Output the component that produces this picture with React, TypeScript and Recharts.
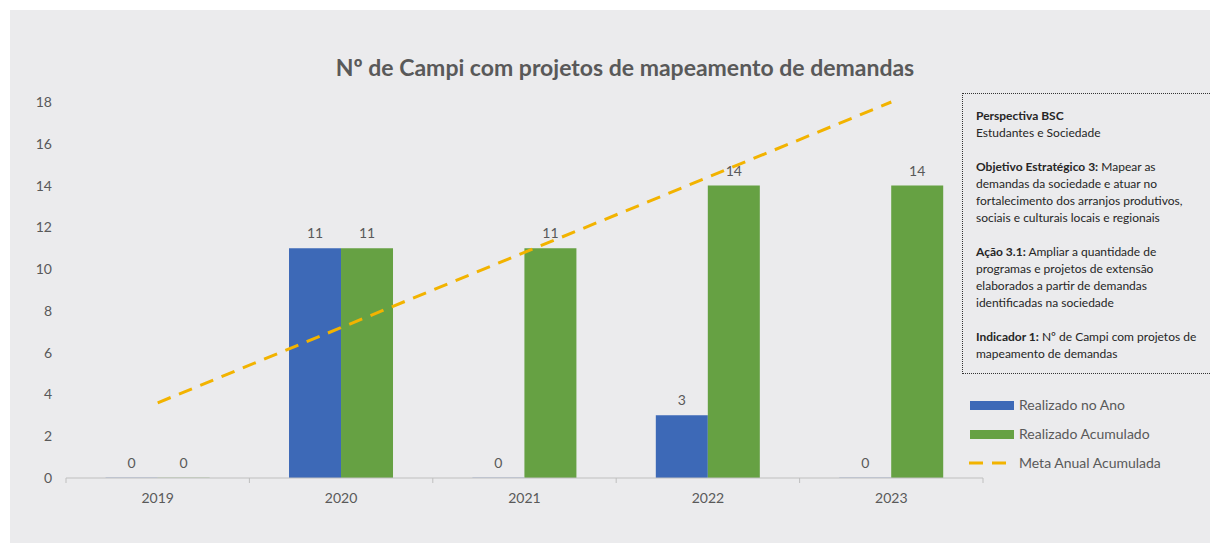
import React from 'react';
import { ComposedChart, Bar, Line, XAxis, YAxis, LabelList } from 'recharts';

const years = ['2019', '2020', '2021', '2022', '2023'];
const realizadoNoAno = [0, 11, 0, 3, 0];
const realizadoAcumulado = [0, 11, 11, 14, 14];
const metaAnualAcumulada = [3.6, 7.2, 10.8, 14.4, 18];
const yTicks = [0, 2, 4, 6, 8, 10, 12, 14, 16, 18];

const data = years.map((year, i) => ({
    year,
    'Realizado no Ano': realizadoNoAno[i],
    'Realizado Acumulado': realizadoAcumulado[i],
    'Meta Anual Acumulada': metaAnualAcumulada[i],
}));

const FONT = 'Lato, "Liberation Sans", sans-serif';
const TEXT = '#595959';
const BLUE = '#3d69b7';
const GREEN = '#66a143';
const GOLD = '#f2b300';
const HALF_BAND = 91.7;

const CategoryTick = (props: any) => {
    const { x, y, payload, index } = props;
    return (
        <g>
            <line x1={x - HALF_BAND} y1={y - 8} x2={x - HALF_BAND} y2={y - 3} stroke="#bfbfbf" />
            {index === years.length - 1 && (
                <line x1={x + HALF_BAND} y1={y - 8} x2={x + HALF_BAND} y2={y - 3} stroke="#bfbfbf" />
            )}
            <text x={x} y={y + 17} textAnchor="middle" fill={TEXT} fontSize={14} fontFamily={FONT}>
                {payload.value}
            </text>
        </g>
    );
};

const legendItems = [
    { name: 'Realizado no Ano', color: BLUE, dashed: false },
    { name: 'Realizado Acumulado', color: GREEN, dashed: false },
    { name: 'Meta Anual Acumulada', color: GOLD, dashed: true },
];

export default function App() {
    return (
        <div style={{ position: 'relative', width: 1208, height: 533, marginLeft: 2, marginTop: 2, background: '#ebebed', fontFamily: FONT }}>
            <div style={{ position: 'absolute', left: 0, top: 43, width: 1230, textAlign: 'center', fontSize: 23, fontWeight: 700, color: TEXT }}>
                Nº de Campi com projetos de mapeamento de demandas
            </div>
            <ComposedChart
                width={1208}
                height={533}
                data={data}
                margin={{ top: 92, right: 235, bottom: 35, left: 0 }}
                barCategoryGap="21.6%"
                barGap={0}
            >
                <XAxis
                    dataKey="year"
                    axisLine={{ stroke: '#bfbfbf' }}
                    tickLine={false}
                    tick={<CategoryTick />}
                    height={30}
                    interval={0}
                />
                <YAxis
                    domain={[0, 18]}
                    ticks={yTicks}
                    axisLine={false}
                    tickLine={false}
                    tickSize={0}
                    tickMargin={14}
                    width={56}
                    tick={{ fill: TEXT, fontSize: 14, fontFamily: FONT }}
                />
                <Bar dataKey="Realizado no Ano" fill={BLUE} minPointSize={0.3} isAnimationActive={false}>
                    <LabelList dataKey="Realizado no Ano" position="top" offset={10} fill={TEXT} fontSize={14} fontFamily={FONT} />
                </Bar>
                <Bar dataKey="Realizado Acumulado" fill={GREEN} minPointSize={0.3} isAnimationActive={false}>
                    <LabelList dataKey="Realizado Acumulado" position="top" offset={10} fill={TEXT} fontSize={14} fontFamily={FONT} />
                </Bar>
                <Line
                    dataKey="Meta Anual Acumulada"
                    stroke={GOLD}
                    strokeWidth={3}
                    strokeDasharray="14 9"
                    dot={false}
                    activeDot={false}
                    isAnimationActive={false}
                />
            </ComposedChart>
            <div style={{ position: 'absolute', left: 958, top: 380, fontSize: 14, color: TEXT }}>
                {legendItems.map((item) => (
                    <div key={item.name} style={{ display: 'flex', alignItems: 'center', height: 29 }}>
                        <svg width={51} height={12}>
                            {item.dashed ? (
                                <line x1={1} y1={6} x2={46} y2={6} stroke={item.color} strokeWidth={3} strokeDasharray="14 9" />
                            ) : (
                                <rect x={2} y={2} width={44} height={9} fill={item.color} />
                            )}
                        </svg>
                        <span>{item.name}</span>
                    </div>
                ))}
            </div>
            <div
                style={{
                    position: 'absolute',
                    left: 952,
                    top: 83,
                    width: 254,
                    height: 281,
                    boxSizing: 'border-box',
                    border: '1px dotted #333',
                    padding: '13px 18px 0 13px',
                    fontSize: 12,
                    lineHeight: '17px',
                    color: '#262626',
                }}
            >
                <div><b>Perspectiva BSC</b></div>
                <div>Estudantes e Sociedade</div>
                <div style={{ height: 17 }} />
                <div><b>Objetivo Estratégico 3:</b> Mapear as demandas da sociedade e atuar no fortalecimento dos arranjos produtivos, sociais e culturais locais e regionais</div>
                <div style={{ height: 17 }} />
                <div><b>Ação 3.1:</b> Ampliar a quantidade de programas e projetos de extensão elaborados a partir de demandas identificadas na sociedade</div>
                <div style={{ height: 17 }} />
                <div><b>Indicador 1:</b> Nº de Campi com projetos de mapeamento de demandas</div>
            </div>
        </div>
    );
}
